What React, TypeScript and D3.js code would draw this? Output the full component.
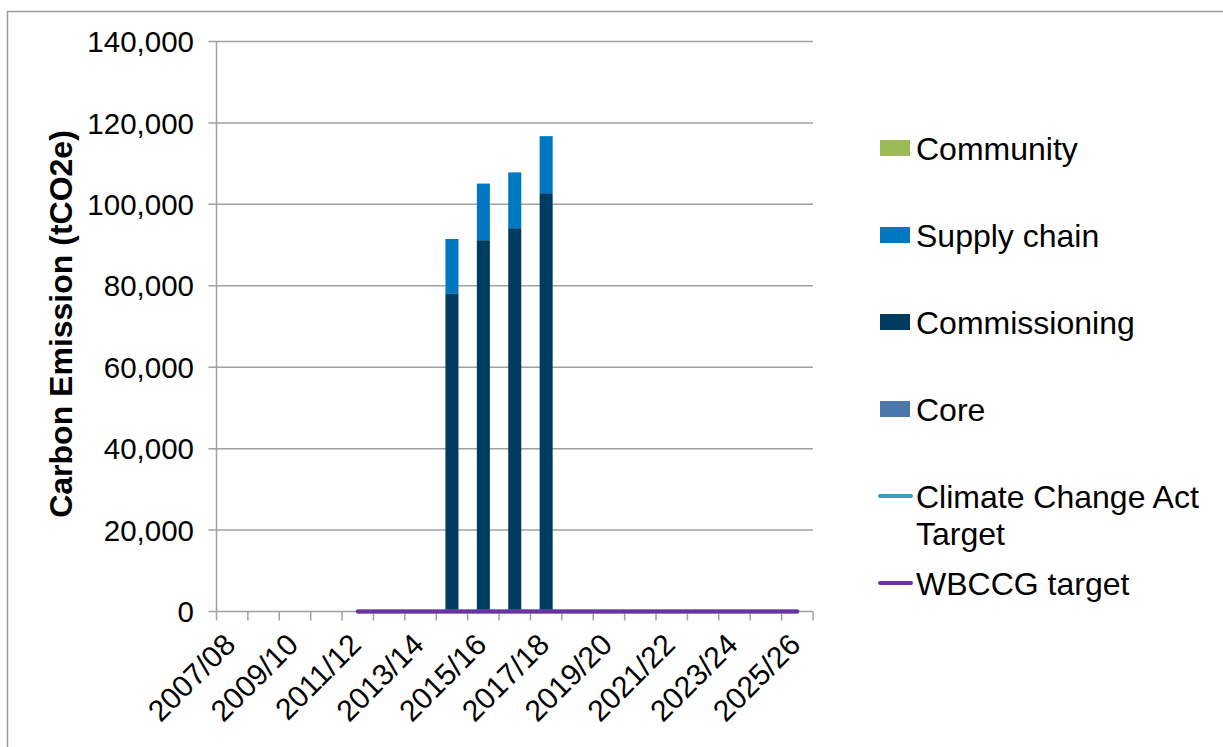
import React from "react";
import * as d3 from "d3";

const categories = [
  "2007/08", "2008/09", "2009/10", "2010/11", "2011/12", "2012/13", "2013/14",
  "2014/15", "2015/16", "2016/17", "2017/18", "2018/19", "2019/20", "2020/21",
  "2021/22", "2022/23", "2023/24", "2024/25", "2025/26",
];
const core = [0, 0, 0, 0, 0, 0, 0, 0, 0, 0, 0, 0, 0, 0, 0, 0, 0, 0, 0];
const commissioning = [0, 0, 0, 0, 0, 0, 0, 78000, 91200, 94150, 102750, 0, 0, 0, 0, 0, 0, 0, 0];
const supplyChain = [0, 0, 0, 0, 0, 0, 0, 13500, 13900, 13700, 14000, 0, 0, 0, 0, 0, 0, 0, 0];
const community = [0, 0, 0, 0, 0, 0, 0, 0, 0, 0, 0, 0, 0, 0, 0, 0, 0, 0, 0];
const climateTarget: (number | null)[] = [null, null, null, null, 0, 0, 0, 0, 0, 0, 0, 0, 0, 0, 0, 0, 0, 0, 0];
const wbccgTarget: (number | null)[] = [null, null, null, null, 0, 0, 0, 0, 0, 0, 0, 0, 0, 0, 0, 0, 0, 0, 0];
const yTicks = [0, 20000, 40000, 60000, 80000, 100000, 120000, 140000];

const stackSeries = [
  { name: "Core", values: core, color: "#4a76aa" },
  { name: "Commissioning", values: commissioning, color: "#003c5f" },
  { name: "Supply chain", values: supplyChain, color: "#0077c1" },
  { name: "Community", values: community, color: "#9bbb59" },
];
const legendItems = [
  { name: ["Community"], color: "#9bbb59", type: "rect" },
  { name: ["Supply chain"], color: "#0077c1", type: "rect" },
  { name: ["Commissioning"], color: "#003c5f", type: "rect" },
  { name: ["Core"], color: "#4a76aa", type: "rect" },
  { name: ["Climate Change Act", "Target"], color: "#3d9db8", type: "line" },
  { name: ["WBCCG target"], color: "#7030a0", type: "line" },
];

const FONT = "'Liberation Sans', Arial, sans-serif";

export default function App() {
  const left = 216.5, right = 813, top = 41.5, bottom = 611.5;
  const x = d3.scaleBand<string>().domain(categories).range([left, right])
    .paddingInner(0.585).paddingOuter(0.2925);
  const step = x.step();
  const y = d3.scaleLinear().domain([0, 140000]).range([bottom, top]);

  const table = categories.map((c, i) => {
    const row: Record<string, any> = { cat: c };
    stackSeries.forEach((s) => (row[s.name] = s.values[i]));
    return row;
  });
  const stacked = d3.stack().keys(stackSeries.map((s) => s.name))(table as any);

  const lineGen = d3.line<number | null>()
    .defined((d) => d !== null)
    .x((_, i) => (x(categories[i]) as number) + x.bandwidth() / 2)
    .y((d) => y(d as number));

  return (
    <svg width={1223} height={747} style={{ position: "absolute", left: 0, top: 0 }}
      fontFamily={FONT}>
      <rect x={0} y={0} width={1223} height={747} fill="#fff" />
      <rect x={7.5} y={11.5} width={1400} height={900} fill="none" stroke="#9a9a9a" strokeWidth={1.5} />
      {/* gridlines */}
      {yTicks.map((t) => (
        <line key={t} x1={left - 8} x2={t === 0 ? left : right} y1={y(t)} y2={y(t)}
          stroke="#a0a0a0" strokeWidth={1.5} />
      ))}
      {/* bars */}
      {stacked.map((layer, li) => (
        <g key={li} fill={stackSeries[li].color}>
          {layer.map((d, i) =>
            d[1] - d[0] > 0 ? (
              <rect key={i} x={x(categories[i])} width={x.bandwidth()}
                y={y(d[1])} height={y(d[0]) - y(d[1])} />
            ) : null
          )}
        </g>
      ))}
      {/* axes */}
      <line x1={left} x2={left} y1={top} y2={bottom} stroke="#a0a0a0" strokeWidth={1.5} />
      <line x1={left} x2={right} y1={bottom} y2={bottom} stroke="#a0a0a0" strokeWidth={1.5} />
      {d3.range(categories.length + 1).map((k) => (
        <line key={k} x1={left + k * step} x2={left + k * step} y1={bottom} y2={bottom + 9}
          stroke="#a0a0a0" strokeWidth={1.5} />
      ))}
      {/* lines */}
      <path d={lineGen(climateTarget) || ""} fill="none" stroke="#3d9db8" strokeWidth={4} strokeLinecap="round" />
      <path d={lineGen(wbccgTarget) || ""} fill="none" stroke="#7030a0" strokeWidth={4} strokeLinecap="round" />
      {/* y tick labels */}
      {yTicks.map((t) => (
        <text key={t} x={194} y={y(t)} dy="0.36em" textAnchor="end" fontSize={29.5} fill="#000">
          {d3.format(",")(t)}
        </text>
      ))}
      {/* x tick labels */}
      {categories.map((c, i) =>
        i % 2 === 0 ? (
          <text key={c} textAnchor="end" fontSize={30} fill="#000"
            transform={`translate(${(x(c) as number) + x.bandwidth() / 2 + 5},${bottom + 35}) rotate(-45)`}>
            {c}
          </text>
        ) : null
      )}
      {/* y title */}
      <text transform={`translate(72,${(128 + 520) / 2}) rotate(-90)`} textAnchor="middle"
        fontSize={32} fontWeight="bold" fill="#000">
        Carbon Emission (tCO2e)
      </text>
      {/* legend */}
      {legendItems.map((it, i) => {
        const cy = 148 + i * 87;
        return (
          <g key={i}>
            {it.type === "rect" ? (
              <rect x={880} y={cy - 8} width={30} height={16} fill={it.color} />
            ) : (
              <line x1={880} x2={911} y1={cy} y2={cy} stroke={it.color} strokeWidth={4} strokeLinecap="round" />
            )}
            {it.name.map((n, j) => (
              <text key={j} x={916} y={cy + j * 37} dy="0.36em" fontSize={32} fill="#000">{n}</text>
            ))}
          </g>
        );
      })}
    </svg>
  );
}
